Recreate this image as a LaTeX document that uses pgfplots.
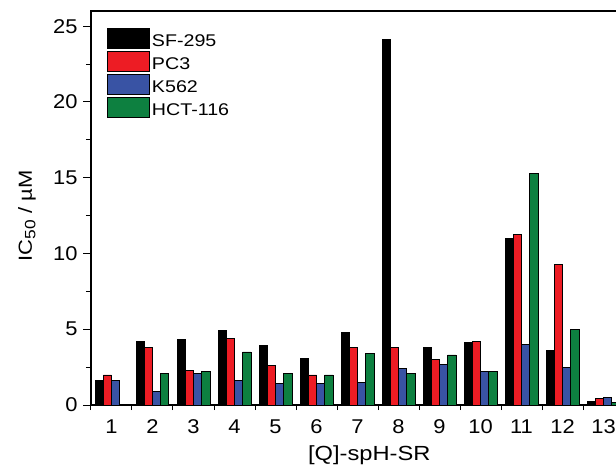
\documentclass[border=0pt]{standalone}
\usepackage{fontspec}
\setmainfont{Liberation Sans}
\newfontfamily\widefont[FakeStretch=1.16]{Liberation Sans}
\newfontfamily\tickfont[FakeStretch=1.1]{Liberation Sans}
\usepackage{pgfplots}
\pgfplotsset{compat=1.18}
\definecolor{cred}{RGB}{237,28,36}
\definecolor{cblue}{RGB}{57,83,164}
\definecolor{cgreen}{RGB}{13,128,64}
\begin{document}
\begin{tikzpicture}
\begin{axis}[
  name=ax,
  at={(0,0)}, anchor=south west,
  scale only axis, width=533bp, height=394bp,
  xmin=0.5, xmax=13.5, ymin=0, ymax=26,
  ybar=0pt, bar width=0.2,
  xtick={1,...,13},
  major x tick style={draw=none},
  minor xtick={0.5,1.5,...,13.5},
  ytick={0,5,...,25},
  minor ytick={2.5,7.5,...,22.5},
  xtick pos=bottom, ytick pos=left,
  tick align=outside,
  major tick length=8bp, minor tick length=5bp,
  axis line style={line width=1.1bp},
  every tick/.style={black, line width=1bp},
  tick label style={font=\tickfont\fontsize{20}{22}\selectfont},
  /pgf/number format/assume math mode=true,
  xticklabel style={yshift=-3bp},
  yticklabel style={xshift=-2bp},
  xlabel={[Q]-spH-SR},
  ylabel={IC\raisebox{-0.35ex}{\fontsize{15}{15}\selectfont 50} / µM},
  label style={font=\widefont\fontsize{20.5}{22}\selectfont},
  xlabel style={at={(axis description cs:0.522,0)}, anchor=base, yshift=-55bp},
  ylabel style={at={(axis description cs:-0.12,0.48)}, anchor=center, font=\widefont\fontsize{19}{21}\selectfont},
  legend style={at={(0,1)}, anchor=north west, xshift=16bp, yshift=-17bp,
    draw=none, fill=none, font=\widefont\fontsize{17}{19}\selectfont,
    row sep=1bp, inner sep=0pt,
    /tikz/every even column/.append style={column sep=7bp}},
  legend cell align=left,
  legend image code/.code={\draw[#1] (0bp,-7bp) rectangle (42bp,13bp);},
  every axis plot/.append style={draw=black, line width=0.8bp},
]
\addplot[fill=black] coordinates {(1,1.63) (2,4.22) (3,4.33) (4,4.9) (5,3.91) (6,3.1) (7,4.8) (8,24.1) (9,3.8) (10,4.11) (11,11.0) (12,3.6) (13,0.24)};
\addplot[fill=cred] coordinates {(1,1.98) (2,3.78) (3,2.29) (4,4.4) (5,2.6) (6,1.98) (7,3.78) (8,3.78) (9,2.99) (10,4.2) (11,11.26) (12,9.28) (13,0.44)};
\addplot[fill=cblue] coordinates {(1,1.63) (2,0.9) (3,2.09) (4,1.63) (5,1.41) (6,1.41) (7,1.47) (8,2.42) (9,2.68) (10,2.2) (11,4.0) (12,2.49) (13,0.48)};
\addplot[fill=cgreen] coordinates {(2,2.09) (3,2.22) (4,3.5) (5,2.09) (6,1.98) (7,3.39) (8,2.09) (9,3.3) (10,2.2) (11,15.26) (12,4.97) (13,0.15)};
\legend{SF-295, PC3, K562, HCT-116}
\end{axis}
\draw[line width=1.3bp, line cap=rect] (ax.north west) -- (ax.north east);
\pgfresetboundingbox
\path[use as bounding box] (-91bp,-60bp) rectangle (525bp,405bp);
\end{tikzpicture}
\end{document}
